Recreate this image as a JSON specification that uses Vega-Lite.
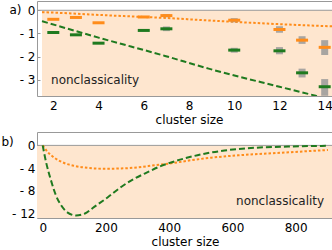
{
  "$schema": "https://vega.github.io/schema/vega-lite/v6.json",
  "padding": 0,
  "background": "white",
  "spacing": 5,
  "config": {
    "font": "DejaVu Sans",
    "view": {"stroke": "#999999", "strokeWidth": 1},
    "axis": {
      "grid": false,
      "domain": false,
      "tickColor": "#999999",
      "tickSize": -3,
      "labelFontSize": 12,
      "labelColor": "#000000",
      "labelOverlap": false,
      "titleFontSize": 12,
      "titleFontWeight": "normal",
      "titleColor": "#000000"
    }
  },
  "datasets": {
    "annotation": [{"note": "nonclassicality"}],
    "markers": [
      {"n": 2, "series": "orange", "value": -0.39},
      {"n": 3, "series": "orange", "value": -0.31},
      {"n": 4, "series": "orange", "value": -0.54},
      {"n": 6, "series": "orange", "value": -0.29},
      {"n": 7, "series": "orange", "value": -0.23},
      {"n": 10, "series": "orange", "value": -0.43},
      {"n": 12, "series": "orange", "value": -0.83},
      {"n": 13, "series": "orange", "value": -1.29},
      {"n": 14, "series": "orange", "value": -1.6},
      {"n": 2, "series": "green", "value": -0.96},
      {"n": 3, "series": "green", "value": -1.06},
      {"n": 4, "series": "green", "value": -1.42},
      {"n": 6, "series": "green", "value": -0.87},
      {"n": 7, "series": "green", "value": -0.8},
      {"n": 10, "series": "green", "value": -1.72},
      {"n": 12, "series": "green", "value": -1.75},
      {"n": 13, "series": "green", "value": -2.7},
      {"n": 14, "series": "green", "value": -3.3}
    ],
    "errors": [
      {"n": 7, "series": "orange", "lo": -0.3, "hi": -0.16},
      {"n": 7, "series": "green", "lo": -0.9, "hi": -0.7},
      {"n": 10, "series": "orange", "lo": -0.52, "hi": -0.34},
      {"n": 10, "series": "green", "lo": -1.83, "hi": -1.62},
      {"n": 12, "series": "orange", "lo": -0.97, "hi": -0.69},
      {"n": 12, "series": "green", "lo": -1.9, "hi": -1.59},
      {"n": 13, "series": "orange", "lo": -1.45, "hi": -1.12},
      {"n": 13, "series": "green", "lo": -2.9, "hi": -2.52},
      {"n": 14, "series": "orange", "lo": -1.93, "hi": -1.29},
      {"n": 14, "series": "green", "lo": -3.69, "hi": -2.97}
    ],
    "fitA": [
      {"n": 1.5, "series": "orange", "value": -0.08},
      {"n": 2, "series": "orange", "value": -0.1},
      {"n": 4, "series": "orange", "value": -0.2},
      {"n": 6, "series": "orange", "value": -0.29},
      {"n": 6.94, "series": "orange", "value": -0.33},
      {"n": 8.87, "series": "orange", "value": -0.44},
      {"n": 10, "series": "orange", "value": -0.5},
      {"n": 12, "series": "orange", "value": -0.6},
      {"n": 14.5, "series": "orange", "value": -0.7},
      {"n": 1.5, "series": "green", "value": -0.47},
      {"n": 4, "series": "green", "value": -1.18},
      {"n": 6.94, "series": "green", "value": -1.97},
      {"n": 8.87, "series": "green", "value": -2.52},
      {"n": 12, "series": "green", "value": -3.3},
      {"n": 13.6, "series": "green", "value": -3.69},
      {"n": 14.5, "series": "green", "value": -3.92}
    ],
    "curvesB": [
      {"n": 0, "series": "orange", "value": 0},
      {"n": 15.8, "series": "orange", "value": -1.17},
      {"n": 36.8, "series": "orange", "value": -2.16},
      {"n": 68, "series": "orange", "value": -3.1},
      {"n": 100, "series": "orange", "value": -3.6},
      {"n": 142, "series": "orange", "value": -3.95},
      {"n": 195, "series": "orange", "value": -4.1},
      {"n": 248, "series": "orange", "value": -4.05},
      {"n": 301, "series": "orange", "value": -3.86},
      {"n": 353, "series": "orange", "value": -3.5},
      {"n": 406, "series": "orange", "value": -3.15},
      {"n": 470, "series": "orange", "value": -2.6},
      {"n": 533, "series": "orange", "value": -2.16},
      {"n": 617, "series": "orange", "value": -1.75},
      {"n": 723, "series": "orange", "value": -1.38},
      {"n": 828, "series": "orange", "value": -1.05},
      {"n": 902, "series": "orange", "value": -0.8},
      {"n": 0, "series": "green", "value": 0},
      {"n": 10.5, "series": "green", "value": -2.9},
      {"n": 26, "series": "green", "value": -6.1},
      {"n": 42, "series": "green", "value": -8.8},
      {"n": 58, "series": "green", "value": -10.5},
      {"n": 79, "series": "green", "value": -11.8},
      {"n": 105, "series": "green", "value": -12.3},
      {"n": 132, "series": "green", "value": -12.0},
      {"n": 163, "series": "green", "value": -10.8},
      {"n": 206, "series": "green", "value": -9.1},
      {"n": 248, "series": "green", "value": -7.3},
      {"n": 290, "series": "green", "value": -5.85},
      {"n": 332, "series": "green", "value": -4.7},
      {"n": 375, "series": "green", "value": -3.6},
      {"n": 406, "series": "green", "value": -3.0},
      {"n": 448, "series": "green", "value": -2.3},
      {"n": 512, "series": "green", "value": -1.46},
      {"n": 575, "series": "green", "value": -0.9},
      {"n": 670, "series": "green", "value": -0.42},
      {"n": 776, "series": "green", "value": -0.2},
      {"n": 902, "series": "green", "value": -0.08}
    ]
  },
  "vconcat": [
    {
      "width": 304,
      "height": 95,
      "resolve": {"axis": {"x": "independent", "y": "independent"}},
      "layer": [
        {
          "data": {"name": "annotation"},
          "mark": {"type": "rect", "fill": "#fee6cf"},
          "encoding": {
            "x": {"datum": 1.5, "type": "quantitative", "scale": {"domain": [1.5, 14.5], "nice": false, "zero": false}, "axis": null},
            "x2": {"datum": 14.5},
            "y": {"datum": 0, "type": "quantitative", "scale": {"domain": [-3.7, 0.4], "nice": false, "zero": false}, "axis": null},
            "y2": {"datum": -3.7}
          }
        },
        {
          "data": {"name": "annotation"},
          "mark": {"type": "rule", "color": "#999999", "strokeWidth": 1},
          "encoding": {"y": {"datum": 0, "type": "quantitative", "axis": null}}
        },
        {
          "data": {"name": "fitA"},
          "transform": [{"filter": "datum.series == 'orange'"}],
          "mark": {"type": "line", "color": "#ff8c1a", "strokeWidth": 2, "strokeDash": [2.5, 2], "interpolate": "monotone", "clip": true},
          "encoding": {"x": {"field": "n", "type": "quantitative", "axis": null}, "y": {"field": "value", "type": "quantitative", "axis": null}}
        },
        {
          "data": {"name": "fitA"},
          "transform": [{"filter": "datum.series == 'green'"}],
          "mark": {"type": "line", "color": "#1f7a1f", "strokeWidth": 2, "strokeDash": [6, 3], "interpolate": "monotone", "clip": true},
          "encoding": {"x": {"field": "n", "type": "quantitative", "axis": null}, "y": {"field": "value", "type": "quantitative", "axis": null}}
        },
        {
          "data": {"name": "errors"},
          "mark": {"type": "bar", "color": "#999999", "opacity": 0.85, "size": 7, "orient": "vertical", "clip": true},
          "encoding": {
            "x": {"field": "n", "type": "quantitative", "axis": null},
            "y": {"field": "lo", "type": "quantitative", "axis": null},
            "y2": {"field": "hi"}
          }
        },
        {
          "data": {"name": "markers"},
          "transform": [{"filter": "datum.series == 'orange'"}],
          "mark": {"type": "tick", "orient": "horizontal", "color": "#ff8c1a", "size": 12, "thickness": 3, "opacity": 1},
          "encoding": {
            "x": {"field": "n", "type": "quantitative",
              "axis": {"values": [2, 4, 6, 8, 10, 12, 14], "title": "cluster size", "labelPadding": 7, "titlePadding": 3}},
            "y": {"field": "value", "type": "quantitative",
              "axis": {
                "values": [0, -1, -2, -3],
                "labelExpr": "datum.value < 0 ? '- ' + abs(datum.value) : '0'",
                "labelPadding": 5,
                "title": "a)",
                "titleAngle": 0,
                "titleAlign": "left",
                "titleBaseline": "middle",
                "titleX": -28,
                "titleY": 8
              }}
          }
        },
        {
          "data": {"name": "markers"},
          "transform": [{"filter": "datum.series == 'green'"}],
          "mark": {"type": "tick", "orient": "horizontal", "color": "#1f7a1f", "size": 12, "thickness": 3, "opacity": 1},
          "encoding": {"x": {"field": "n", "type": "quantitative", "axis": null}, "y": {"field": "value", "type": "quantitative", "axis": null}}
        },
        {
          "data": {"name": "annotation"},
          "mark": {"type": "text", "align": "left", "baseline": "alphabetic", "fontSize": 12, "fill": "#222222"},
          "encoding": {"x": {"datum": 1.9, "type": "quantitative", "axis": null}, "y": {"datum": -3.2, "type": "quantitative", "axis": null}, "text": {"field": "note"}}
        }
      ]
    },
    {
      "width": 296,
      "height": 86,
      "resolve": {"axis": {"x": "independent", "y": "independent"}},
      "layer": [
        {
          "data": {"name": "annotation"},
          "mark": {"type": "rect", "fill": "#fee6cf"},
          "encoding": {
            "x": {"datum": -18, "type": "quantitative", "scale": {"domain": [-18, 918], "nice": false, "zero": false}, "axis": null},
            "x2": {"datum": 918},
            "y": {"datum": 0, "type": "quantitative", "scale": {"domain": [-12.75, 2.35], "nice": false, "zero": false}, "axis": null},
            "y2": {"datum": -12.75}
          }
        },
        {
          "data": {"name": "annotation"},
          "mark": {"type": "rule", "color": "#999999", "strokeWidth": 1},
          "encoding": {"y": {"datum": 0, "type": "quantitative", "axis": null}}
        },
        {
          "data": {"name": "curvesB"},
          "transform": [{"filter": "datum.series == 'orange'"}],
          "mark": {"type": "line", "color": "#ff8c1a", "strokeWidth": 2, "strokeDash": [2.5, 2], "interpolate": "monotone", "clip": true},
          "encoding": {
            "x": {"field": "n", "type": "quantitative",
              "axis": {"values": [0, 200, 400, 600, 800], "title": "cluster size", "labelPadding": 7, "titlePadding": 3}},
            "y": {"field": "value", "type": "quantitative",
              "axis": {
                "values": [0, -4, -8, -12],
                "labelExpr": "datum.value < 0 ? '- ' + abs(datum.value) : '0'",
                "labelPadding": 5,
                "title": "b)",
                "titleAngle": 0,
                "titleAlign": "left",
                "titleBaseline": "middle",
                "titleX": -36,
                "titleY": 9
              }}
          }
        },
        {
          "data": {"name": "curvesB"},
          "transform": [{"filter": "datum.series == 'green'"}],
          "mark": {"type": "line", "color": "#1f7a1f", "strokeWidth": 2, "strokeDash": [6, 3], "interpolate": "monotone", "clip": true},
          "encoding": {"x": {"field": "n", "type": "quantitative", "axis": null}, "y": {"field": "value", "type": "quantitative", "axis": null}}
        },
        {
          "data": {"name": "annotation"},
          "mark": {"type": "text", "align": "right", "baseline": "alphabetic", "fontSize": 12, "fill": "#222222"},
          "encoding": {"x": {"datum": 890, "type": "quantitative", "axis": null}, "y": {"datum": -10.4, "type": "quantitative", "axis": null}, "text": {"field": "note"}}
        }
      ]
    }
  ]
}
